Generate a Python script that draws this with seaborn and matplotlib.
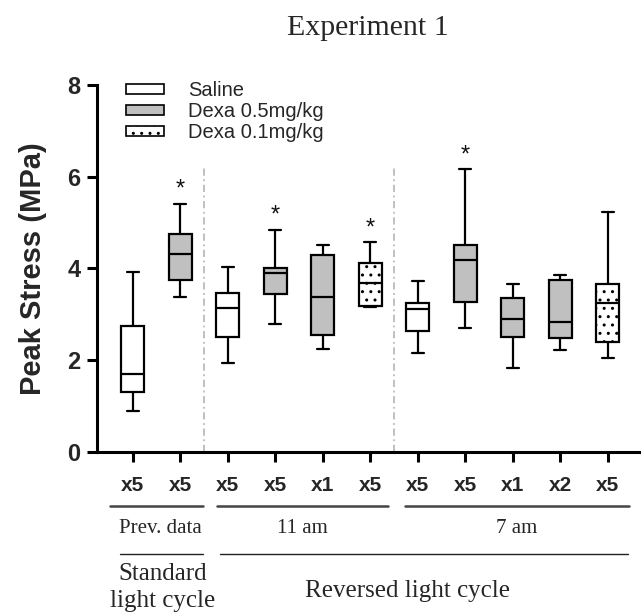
import matplotlib
matplotlib.use('Agg')
import matplotlib.pyplot as plt
import matplotlib.transforms as mtransforms
from matplotlib.lines import Line2D
from matplotlib.patches import Patch
import numpy as np
import pandas as pd
import seaborn as sns

# summary values (MPa): min, q1, median, q3, max per box
box_ticks = ['x5', 'x5', 'x5', 'x5', 'x1', 'x5', 'x5', 'x5', 'x1', 'x2', 'x5']
box_groups = ['Saline', 'Dexa 0.5mg/kg', 'Saline', 'Dexa 0.5mg/kg', 'Dexa 0.5mg/kg',
              'Dexa 0.1mg/kg', 'Saline', 'Dexa 0.5mg/kg', 'Dexa 0.5mg/kg',
              'Dexa 0.5mg/kg', 'Dexa 0.1mg/kg']
box_min = [0.89, 3.38, 1.94, 2.78, 2.25, 3.15, 2.15, 2.69, 1.83, 2.22, 2.04]
box_q1 = [1.31, 3.75, 2.51, 3.43, 2.55, 3.18, 2.64, 3.26, 2.51, 2.49, 2.40]
box_med = [1.70, 4.32, 3.13, 3.89, 3.37, 3.67, 3.12, 4.18, 2.90, 2.82, 3.24]
box_q3 = [2.75, 4.76, 3.46, 4.00, 4.29, 4.12, 3.25, 4.52, 3.36, 3.75, 3.66]
box_max = [3.93, 5.40, 4.04, 4.84, 4.52, 4.58, 3.72, 6.17, 3.65, 3.86, 5.23]

star_boxes = [1, 3, 5, 7]
star_values = [5.71, 5.16, 4.87, 6.47]

group_names = ['Saline', 'Dexa 0.5mg/kg', 'Dexa 0.1mg/kg']
group_colors = ['white', '#c0c0c0', 'white']
group_hatches = [None, None, '..']

sessions = ['Prev. data', '11 am', '7 am']
session_first = [0, 2, 6]
session_last = [1, 5, 10]

cycles = ['Standard\nlight cycle', 'Reversed light cycle']

# five points per box: with linear percentiles they give back exactly q1/median/q3
box_ids = [str(i) for i in range(len(box_ticks))]
rows = []
for i, bid in enumerate(box_ids):
    for v in (box_min[i], box_q1[i], box_med[i], box_q3[i], box_max[i]):
        rows.append({'box': bid, 'group': box_groups[i], 'value': v})
df = pd.DataFrame(rows)

sns.set_style('ticks')
plt.rcParams['font.family'] = ['Liberation Sans', 'DejaVu Sans']
plt.rcParams['hatch.linewidth'] = 1.0

W, H = 641, 614
fig = plt.figure(figsize=(W / 100, H / 100), dpi=100)
ax = fig.add_axes([96.7 / W, 162.3 / H, (W - 96.7) / W, (529 - 162.3) / H])

for name, color, hatch in zip(group_names, group_colors, group_hatches):
    n_before = len(ax.patches)
    sns.boxplot(data=df[df['group'] == name], x='box', y='value', order=box_ids,
                color=color, saturation=1, width=0.49, whis=(0, 100),
                linewidth=1.6, linecolor='black', fliersize=0, ax=ax)
    if hatch:
        for p in ax.patches[n_before:]:
            p.set_hatch(hatch)

# significance stars
for b, v in zip(star_boxes, star_values):
    ax.text(b, v, '*', ha='center', va='center', fontsize=17, color='#111111')

# dash-dot separators between sessions
for b in (1.5, 5.5):
    ax.plot([b, b], [0, 6.2], color='#bbbbbb', lw=1.3, ls=(0, (4, 2, 1, 2)))

ax.set_xlim(-0.758, 10.70)
ax.set_ylim(0, 8)
ax.set_yticks([0, 2, 4, 6, 8])
ax.set_xticks(range(len(box_ticks)))
ax.set_xticklabels(box_ticks)
ax.set_xlabel('')
ax.set_ylabel('Peak Stress (MPa)', fontsize=21, fontweight='bold', labelpad=15)
for lab in ax.get_xticklabels():
    lab.set_fontweight('bold')
    lab.set_fontsize(15)
for lab in ax.get_yticklabels():
    lab.set_fontweight('bold')
    lab.set_fontsize(17)
ax.tick_params(axis='x', length=7, width=2.2, pad=10.5, color='black')
ax.tick_params(axis='y', length=7.5, width=2.2, pad=4, color='black')
for s in ('left', 'bottom'):
    ax.spines[s].set_linewidth(2.2)
    ax.spines[s].set_color('black')
sns.despine(ax=ax)

# legend
handles = [Patch(facecolor=c, edgecolor='black', linewidth=1.2, hatch=h)
           for c, h in zip(group_colors, group_hatches)]
ax.legend(handles, group_names, loc='upper left', frameon=False, fontsize=14.5,
          bbox_to_anchor=(126 / W, 1 - 81 / H), bbox_transform=fig.transFigure,
          borderpad=0, borderaxespad=0, handlelength=1.89, handleheight=0.4,
          handletextpad=1.2, labelspacing=0.11)

# group annotations below the axis (x in data units, y in figure pixels)
trans = mtransforms.blended_transform_factory(ax.transData, fig.transFigure)
session_spans = [(-0.48, 1.47), (1.78, 5.37), (5.74, 10.45)]
for name, a, b, (x0, x1) in zip(sessions, session_first, session_last, session_spans):
    y = 1 - 505.5 / H
    fig.add_artist(Line2D([x0, x1], [y, y], transform=trans, color='#444444', lw=1.8))
    ax.text((a + b) / 2 + 0.08, 1 - 533 / H, name, transform=trans, ha='center',
            va='baseline', fontsize=15, family='Liberation Serif')

cycle_spans = [(-0.27, 1.48), (1.84, 10.43)]
cycle_centers = [0.64, 5.78]
for name, (x0, x1), xc in zip(cycles, cycle_spans, cycle_centers):
    y = 1 - 553.8 / H
    fig.add_artist(Line2D([x0, x1], [y, y], transform=trans, color='#222222', lw=1))
    base = 580.5 if '\n' in name else 596.7
    for k, line in enumerate(name.split('\n')):
        ax.text(xc, 1 - (base + 27 * k) / H, line, transform=trans, ha='center',
                va='baseline', fontsize=18, family='Liberation Serif')

fig.text(368 / W, 1 - 35 / H, 'Experiment 1', ha='center', va='baseline',
         fontsize=21.5, family='Liberation Serif')

fig.savefig('out.png', dpi=100)
